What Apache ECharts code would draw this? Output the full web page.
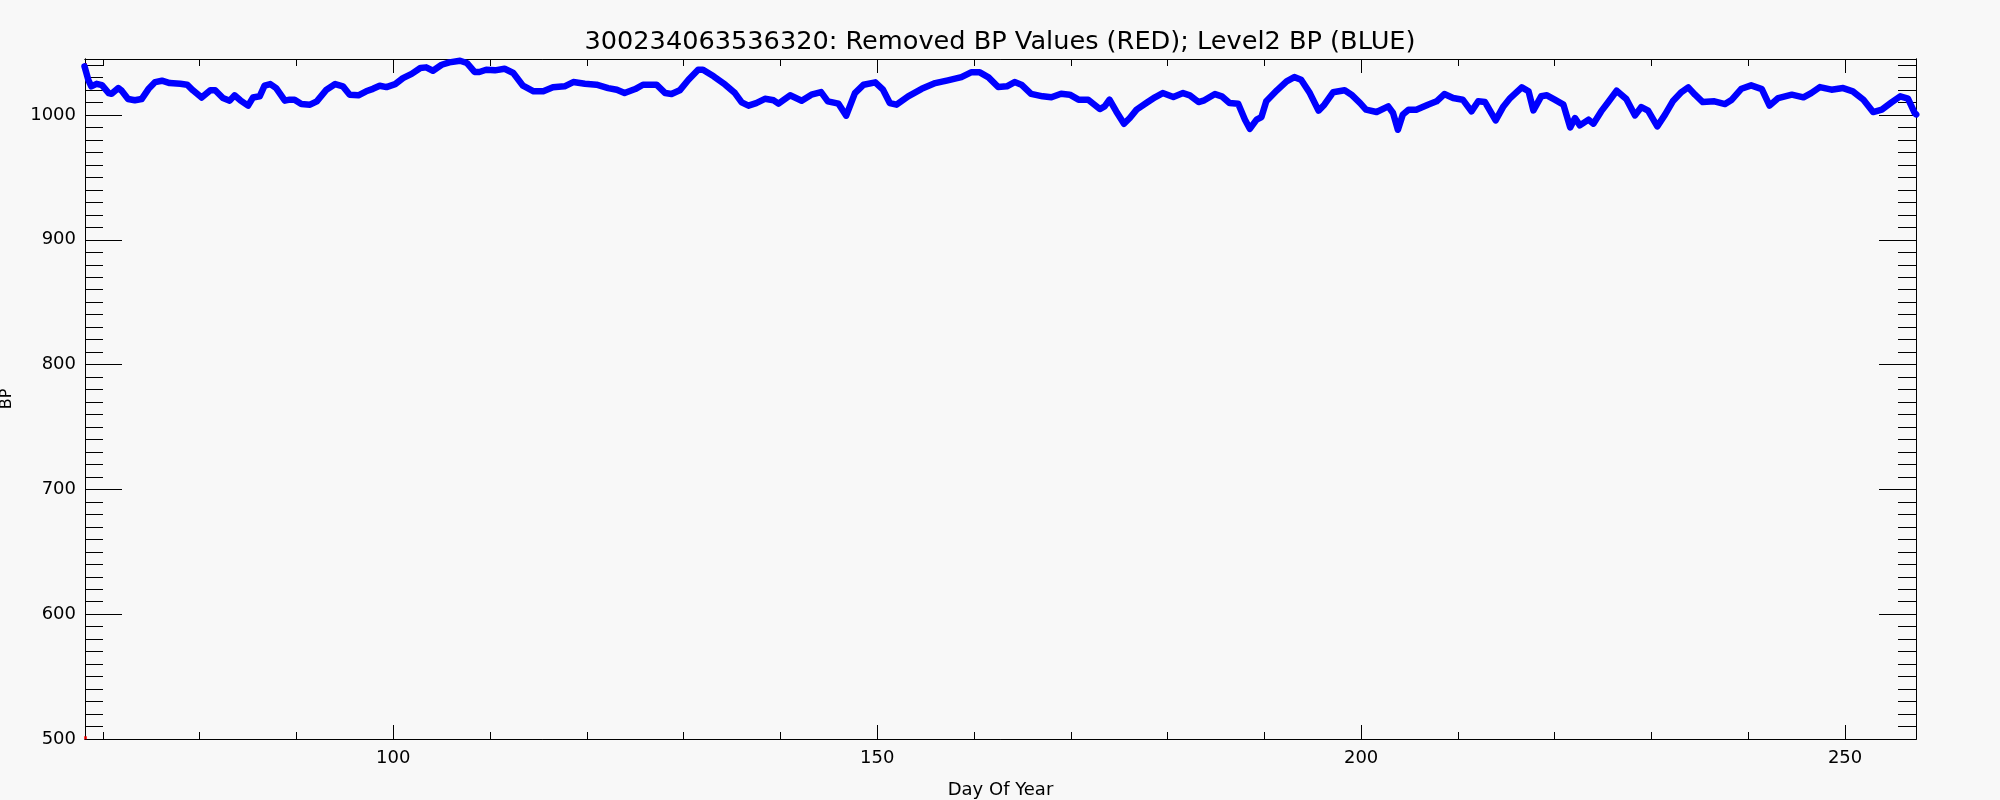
<!DOCTYPE html>
<html>
<head>
<meta charset="utf-8">
<script src="https://cdn.jsdelivr.net/npm/echarts@6/dist/echarts.min.js"></script>
<style>
html,body{margin:0;padding:0;background:#f8f8f8;}
#chart{width:2000px;height:800px;}
</style>
</head>
<body>
<div id="chart"></div>
<script>
// ---- data ----
const titleText = '300234063536320: Removed BP Values (RED); Level2 BP (BLUE)';
const xName = 'Day Of Year';
const yName = 'BP';

const days = [68.1,68.5,68.8,69.35,69.9,70.6,70.9,71.6,71.9,72.6,73.3,74.0,74.7,75.4,76.1,76.9,78.0,78.7,79.3,80.2,
81.1,81.6,82.4,83.1,83.6,84.2,85.0,85.5,86.2,86.7,87.3,87.9,88.8,89.3,89.8,90.5,91.4,92.1,93.1,94.0,
94.8,95.5,96.4,97.2,97.9,98.6,99.3,100.2,101.0,101.9,102.8,103.4,104.1,105.0,105.8,106.9,107.6,108.4,108.9,109.6,
110.5,111.5,112.4,113.4,114.5,115.5,116.5,117.7,118.6,119.8,121.0,122.2,123.1,123.9,125.0,125.8,127.2,128.1,128.75,129.6,
130.5,131.5,132.0,133.1,134.3,135.3,136.0,136.7,137.5,138.4,139.3,139.8,141.0,142.2,143.2,144.2,144.9,146.0,146.8,147.7,
148.6,149.8,150.6,151.3,152.0,153.2,154.6,156.0,157.3,158.7,159.7,160.6,161.5,162.5,163.4,164.2,164.9,165.9,167.1,168.0,
169.0,169.9,170.8,171.8,173.0,173.5,174.0,174.7,175.5,176.1,176.8,177.8,178.7,179.5,180.6,181.6,182.3,183.2,183.8,184.9,
185.6,186.4,187.3,188.0,188.5,189.2,189.7,190.2,191.3,192.3,193.1,193.8,194.7,195.6,196.2,197.1,198.3,199.0,199.9,200.5,
201.6,202.8,203.3,203.8,204.3,204.9,205.7,206.9,207.8,208.6,209.5,210.5,211.4,212.1,212.8,213.9,214.7,215.4,216.6,217.3,
217.8,218.6,219.2,220.0,220.9,221.6,222.1,222.6,223.5,224.0,224.8,225.5,226.4,227.4,228.3,228.95,229.65,230.6,231.4,232.2,
233.1,233.8,234.5,235.3,236.5,237.6,238.3,239.3,240.3,241.4,242.2,243.1,244.5,245.7,246.5,247.4,248.6,249.8,250.8,251.9,
252.9,253.8,254.8,255.7,256.5,257.2,257.35];

const bp = [1039,1028,1023,1025,1024,1017.6,1017,1021.6,1019.8,1012.8,1011.8,1012.8,1020.8,1026.4,1027.5,1025.6,1025,1024.3,1019.8,1014,
1019.8,1019.8,1013.6,1011.5,1015.8,1011.8,1007.5,1014,1015,1023.5,1024.8,1021.6,1011.5,1012.3,1012.3,1008.8,1008.3,1011,1020.3,1024.8,
1023,1016.3,1015.8,1019,1021,1023.5,1022.4,1024.8,1029.6,1033,1037.7,1038.2,1035.5,1040.3,1042.2,1043.5,1041.7,1034.5,1034.5,1036.3,
1035.8,1037.1,1033.7,1023.5,1019,1019,1022.2,1023,1026.4,1025.1,1024.3,1021.6,1020.3,1017.6,1020.8,1024.3,1024.3,1017.6,1016.8,1019.8,
1028.3,1036.3,1036.3,1031,1024.3,1017.6,1010.1,1007.5,1009.6,1013,1011.8,1009.1,1015.8,1011.5,1016.3,1018.4,1011,1009.1,999.5,1017.6,
1024.3,1026.2,1020.3,1009.6,1008.3,1015,1021,1025.6,1027.8,1030.4,1034.2,1034.2,1030.2,1022.4,1023,1026.4,1024.3,1017,1015,1014.2,
1017.1,1016.3,1012.3,1012.3,1004.8,1006.9,1012.3,1002.9,993,997.6,1004.3,1009.6,1014.2,1017.6,1014.4,1017.6,1015.8,1010.4,1011.8,1016.8,
1015,1009.6,1009.1,996.3,989,996.3,998.4,1011,1019.8,1027,1030.4,1028.3,1017.6,1003.5,1008.3,1018.2,1019.8,1016.3,1009.6,1004.3,
1002.4,1006.9,1001.6,988.2,1000.3,1004.3,1004.3,1008.3,1011,1016.8,1013.6,1012.3,1002.9,1011,1010.4,995.7,1006.9,1013.6,1022.2,1019,
1003.7,1015,1015.8,1012.3,1008.3,990.1,997.6,991.7,996.3,993.1,1002.9,1010.1,1019.5,1012.8,999.7,1006.4,1003.5,990.9,1000.3,1011,
1018.4,1022.2,1016.3,1010.4,1011,1008.8,1012.3,1021.1,1023.8,1020.8,1007.5,1013.6,1016.3,1014.2,1017.6,1022.4,1020.3,1021.6,1019,1012.3,
1002.4,1004.3,1010.1,1015,1013.1,1001.6,1000.5];

// removed values (red)
const removedDays = [68.2, 68.2];
const removedBp = [1040.5, 501];

// axis ranges and ticks
const xMin = 68.15, xMax = 257.33;
const yMin = 500, yMax = 1044.9;
const xMajorTicks = [100, 150, 200, 250];
const xMinorTicks = [70, 80, 90, 110, 120, 130, 140, 160, 170, 180, 190, 210, 220, 230, 240];
const yMajorTicks = [500, 600, 700, 800, 900, 1000];
const yMinorTicks = [510,520,530,540,550,560,570,580,590,610,620,630,640,650,660,670,680,690,
  710,720,730,740,750,760,770,780,790,810,820,830,840,850,860,870,880,890,
  910,920,930,940,950,960,970,980,990,1010,1020,1030,1040];

const FONT = 'DejaVu Sans';
const lineData = days.map((d, i) => [d, bp[i]]);
const redData = removedDays.map((d, i) => [d, removedBp[i]]);
const plain = v => String(Math.round(v));

function xAx(pos, ticks, len, labels, extra) {
  return Object.assign({
    type: 'value', position: pos, min: xMin, max: xMax, gridIndex: 0,
    axisLine: {show: true, onZero: false, lineStyle: {color: '#000', width: 1}},
    axisTick: {show: true, inside: true, length: len, customValues: ticks, lineStyle: {color: '#000', width: 1}},
    axisLabel: labels ? {show: true, customValues: labels, formatter: plain, color: '#000', fontFamily: FONT, fontSize: 18, margin: 10} : {show: false},
    splitLine: {show: false}
  }, extra || {});
}
function yAx(pos, ticks, len, labels, extra) {
  return Object.assign({
    type: 'value', position: pos, min: yMin, max: yMax, gridIndex: 0,
    axisLine: {show: true, onZero: false, lineStyle: {color: '#000', width: 1}},
    axisTick: {show: true, inside: true, length: len, customValues: ticks, lineStyle: {color: '#000', width: 1}},
    axisLabel: labels ? {show: true, customValues: labels, formatter: plain, color: '#000', fontFamily: FONT, fontSize: 18, margin: 9} : {show: false},
    splitLine: {show: false}
  }, extra || {});
}

const chart = echarts.init(document.getElementById('chart'), null, {renderer: 'canvas'});
chart.setOption({
  backgroundColor: '#f8f8f8',
  animation: false,
  title: {
    text: titleText, left: 'center', top: 24,
    textStyle: {color: '#000', fontFamily: FONT, fontSize: 25.6, fontWeight: 'normal'}
  },
  grid: {left: 85, right: 84, top: 59, bottom: 61, containLabel: false, outerBoundsMode: 'none'},
  xAxis: [
    xAx('bottom', xMajorTicks, 14, xMajorTicks, {
      name: xName, nameLocation: 'middle', nameGap: 42,
      nameTextStyle: {color: '#000', fontFamily: FONT, fontSize: 18, verticalAlign: 'top'}
    }),
    xAx('bottom', xMinorTicks, 7, null),
    xAx('top', xMajorTicks, 14, null),
    xAx('top', xMinorTicks, 7, null)
  ],
  yAxis: [
    yAx('left', yMajorTicks, 37, yMajorTicks, {
      name: yName, nameLocation: 'middle', nameGap: 70, nameRotate: 90,
      nameTextStyle: {color: '#000', fontFamily: FONT, fontSize: 16}
    }),
    yAx('left', yMinorTicks, 18, null),
    yAx('right', yMajorTicks, 37, null),
    yAx('right', yMinorTicks, 18, null)
  ],
  series: [
    {
      type: 'line', xAxisIndex: 0, yAxisIndex: 0, data: lineData,
      showSymbol: false, symbol: 'none', smooth: false, clip: true,
      lineStyle: {color: '#0000ff', width: 6.5, join: 'round', cap: 'round'}
    },
    {
      type: 'scatter', xAxisIndex: 0, yAxisIndex: 0, data: redData,
      symbol: 'rect', symbolSize: 3, itemStyle: {color: '#ff0000'}, clip: false
    }
  ]
});
</script>
</body>
</html>
